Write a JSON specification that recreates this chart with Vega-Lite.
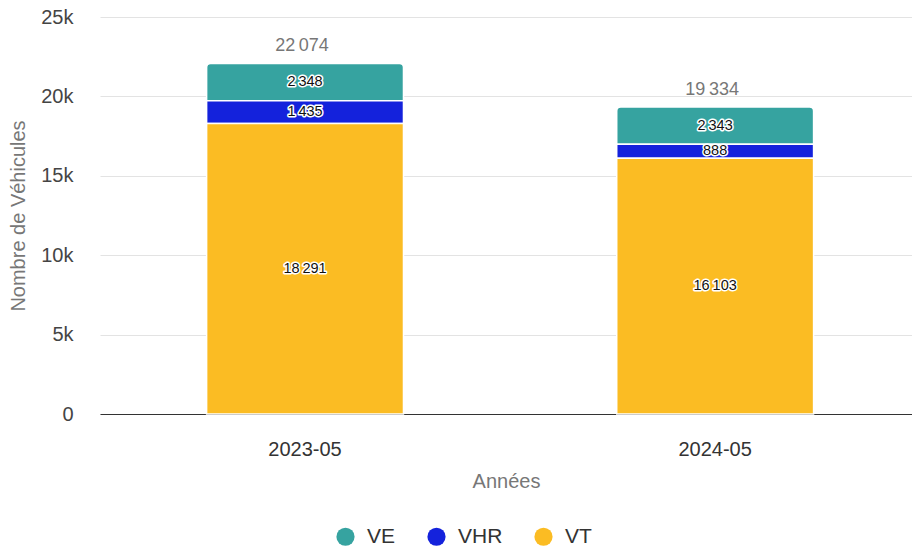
{
  "$schema": "https://vega.github.io/schema/vega-lite/v6.json",
  "width": 812,
  "height": 397,
  "padding": {"left": 100, "top": 17, "right": 0, "bottom": 136},
  "autosize": {"type": "none"},
  "config": {
    "font": "Liberation Sans",
    "view": {"stroke": null},
    "locale": {"number": {"decimal": ",", "thousands": "\u202f", "grouping": [3], "currency": ["", " €"]}}
  },
  "data": {
    "values": [
      {"annee": "2023-05", "type": "VE", "valeur": 2348},
      {"annee": "2023-05", "type": "VHR", "valeur": 1435},
      {"annee": "2023-05", "type": "VT", "valeur": 18291},
      {"annee": "2024-05", "type": "VE", "valeur": 2343},
      {"annee": "2024-05", "type": "VHR", "valeur": 888},
      {"annee": "2024-05", "type": "VT", "valeur": 16103}
    ]
  },
  "encoding": {
    "x": {
      "field": "annee", "type": "nominal",
      "scale": {"paddingInner": 0.52, "paddingOuter": 0.25, "align": 0.52},
      "axis": {"title": "Années", "labelAngle": 0, "labelFontSize": 20, "labelColor": "#333", "labelPadding": 25, "ticks": false, "domainColor": "#333", "domainWidth": 1.2, "titleFontSize": 20, "titleFontWeight": "normal", "titleColor": "#777", "titlePadding": 12}
    }
  },
  "layer": [
    {
      "transform": [
        {"stack": "valeur", "groupby": ["annee"], "sort": [{"field": "type", "order": "descending"}], "as": ["y0", "y1"]}
      ],
      "mark": {"type": "bar", "stroke": "white", "strokeWidth": 1.5, "cornerRadiusTopLeft": {"expr": "datum.type == 'VE' ? 4 : 0"}, "cornerRadiusTopRight": {"expr": "datum.type == 'VE' ? 4 : 0"}},
      "encoding": {
        "y": {
          "field": "y1", "type": "quantitative",
          "scale": {"domain": [0, 25000], "nice": false},
          "axis": {"title": "Nombre de Véhicules", "values": [0, 5000, 10000, 15000, 20000, 25000], "labelExpr": "datum.value == 0 ? '0' : (datum.value / 1000) + 'k'", "domain": false, "ticks": false, "labelPadding": 27, "labelFontSize": 20, "labelColor": "#444", "gridColor": "#e3e3e3", "titleFontSize": 20, "titleFontWeight": "normal", "titleColor": "#777", "titlePadding": 12}
        },
        "y2": {"field": "y0"},
        "color": {
          "field": "type", "type": "nominal",
          "scale": {"domain": ["VE", "VHR", "VT"], "range": ["#36A3A0", "#1422DC", "#FBBC23"]},
          "legend": {"title": null, "orient": "none", "legendX": 235, "legendY": 509, "direction": "horizontal", "symbolType": "circle", "symbolSize": 330, "symbolStrokeWidth": 0, "labelFontSize": 21, "labelColor": "#333", "columnPadding": 30, "labelOffset": 11}
        }
      }
    },
    {
      "transform": [
        {"stack": "valeur", "groupby": ["annee"], "sort": [{"field": "type", "order": "descending"}], "as": ["y0", "y1"]},
        {"calculate": "(datum.y0 + datum.y1) / 2", "as": "ymid"}
      ],
      "mark": {"type": "text", "fontSize": 14.5, "stroke": "white", "strokeWidth": 3, "strokeJoin": "round", "fill": "white"},
      "encoding": {
        "y": {"field": "ymid", "type": "quantitative"},
        "text": {"field": "valeur", "type": "quantitative", "format": ","}
      }
    },
    {
      "transform": [
        {"stack": "valeur", "groupby": ["annee"], "sort": [{"field": "type", "order": "descending"}], "as": ["y0", "y1"]},
        {"calculate": "(datum.y0 + datum.y1) / 2", "as": "ymid"}
      ],
      "mark": {"type": "text", "fontSize": 14.5, "fill": "#111"},
      "encoding": {
        "y": {"field": "ymid", "type": "quantitative"},
        "text": {"field": "valeur", "type": "quantitative", "format": ","}
      }
    },
    {
      "transform": [
        {"aggregate": [{"op": "sum", "field": "valeur", "as": "total"}], "groupby": ["annee"]}
      ],
      "mark": {"type": "text", "fontSize": 18, "fill": "#777", "dy": -17, "dx": -3},
      "encoding": {
        "y": {"field": "total", "type": "quantitative"},
        "text": {"field": "total", "type": "quantitative", "format": ","}
      }
    }
  ]
}
